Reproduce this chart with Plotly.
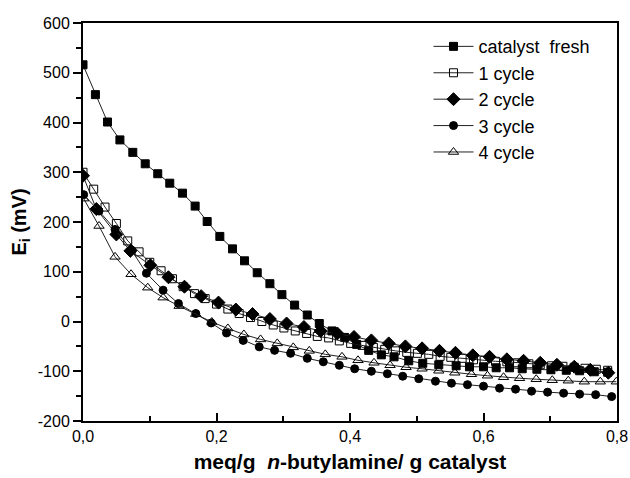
import plotly.graph_objects as go

# catalyst fresh (filled squares)
x_fresh = [0.0, 0.0186, 0.0367, 0.0553, 0.0746, 0.0932, 0.112, 0.130, 0.149, 0.168,
           0.186, 0.205, 0.224, 0.242, 0.261, 0.280, 0.298, 0.317, 0.336, 0.354,
           0.373, 0.392, 0.410, 0.428, 0.447, 0.466, 0.488, 0.509, 0.533, 0.559,
           0.579, 0.600, 0.619, 0.639, 0.658, 0.680, 0.701, 0.724, 0.744, 0.766, 0.786]
y_fresh = [516, 456, 401, 365, 340, 317, 297, 278, 258, 232,
           201, 171, 146, 122, 98, 76, 54, 33, 13, -4,
           -19, -32, -46, -58, -67, -71, -79, -84, -87, -89,
           -91, -91, -93, -93, -95, -96, -97, -98, -99, -101, -102]

# 1 cycle (open squares)
x_c1 = [0.0, 0.016, 0.033, 0.050, 0.067, 0.084, 0.100, 0.117, 0.134, 0.150,
        0.167, 0.183, 0.200, 0.217, 0.234, 0.251, 0.268, 0.285, 0.301, 0.318,
        0.335, 0.351, 0.368, 0.384, 0.401, 0.418, 0.435, 0.452, 0.468, 0.485,
        0.501, 0.518, 0.535, 0.551, 0.568, 0.585, 0.601, 0.618, 0.635, 0.651,
        0.668, 0.685, 0.702, 0.719, 0.736, 0.752, 0.769, 0.786]
y_c1 = [300, 266, 230, 197, 162, 140, 119, 102, 86, 70,
        56, 46, 35, 25, 16, 8, 0, -7, -13, -19,
        -24, -30, -33, -39, -44, -48, -52, -56, -59, -62,
        -64, -66, -70, -72, -74, -77, -78, -80, -81, -83,
        -85, -87, -89, -90, -92, -94, -96, -98]

# 2 cycle (filled diamonds)
x_c2 = [0.0, 0.020, 0.050, 0.071, 0.101, 0.128, 0.152, 0.177, 0.203, 0.229,
        0.254, 0.280, 0.305, 0.331, 0.356, 0.381, 0.406, 0.432, 0.458, 0.483,
        0.508, 0.534, 0.558, 0.584, 0.609, 0.635, 0.660, 0.685, 0.710, 0.736,
        0.760, 0.787]
y_c2 = [293, 226, 175, 142, 113, 89, 70, 51, 38, 24,
        15, 5, -4, -11, -19, -24, -31, -38, -44, -50,
        -54, -59, -63, -68, -71, -76, -79, -83, -87, -91,
        -97, -103]

# 3 cycle (filled circles)
x_c3 = [0.001, 0.024, 0.048, 0.073, 0.095, 0.120, 0.143, 0.169, 0.192, 0.215,
        0.240, 0.264, 0.287, 0.311, 0.336, 0.360, 0.384, 0.407, 0.432, 0.456,
        0.479, 0.503, 0.528, 0.552, 0.576, 0.600, 0.624, 0.648, 0.672, 0.696,
        0.720, 0.744, 0.768, 0.792]
y_c3 = [255, 222, 185, 143, 97, 63, 36, 16, -3, -23,
        -38, -51, -58, -64, -74, -81, -88, -95, -100, -105,
        -110, -115, -120, -124, -127, -130, -134, -136, -140, -142,
        -144, -146, -147, -151]

# 4 cycle (open triangles)
x_c4 = [0.001, 0.024, 0.048, 0.072, 0.097, 0.120, 0.144, 0.169, 0.193, 0.217,
        0.241, 0.266, 0.291, 0.315, 0.339, 0.363, 0.388, 0.412, 0.436, 0.460,
        0.484, 0.508, 0.533, 0.557, 0.582, 0.606, 0.630, 0.654, 0.679, 0.703,
        0.727, 0.751, 0.775, 0.799]
y_c4 = [247, 192, 130, 95, 68, 48, 31, 15, -1, -14,
        -26, -36, -44, -52, -59, -66, -71, -78, -83, -88,
        -92, -95, -99, -103, -106, -109, -112, -114, -116, -118,
        -119, -121, -121, -121]

y_ticks = [-200, -100, 0, 100, 200, 300, 400, 500, 600]
x_ticks = [0.0, 0.2, 0.4, 0.6, 0.8]

series = [
    ("catalyst  fresh", x_fresh, y_fresh, "square", 8),
    ("1 cycle", x_c1, y_c1, "square-open", 8),
    ("2 cycle", x_c2, y_c2, "diamond", 10),
    ("3 cycle", x_c3, y_c3, "circle", 8),
    ("4 cycle", x_c4, y_c4, "triangle-up-open", 9),
]

fig = go.Figure()
for name, xs, ys, sym, size in series:
    fig.add_trace(go.Scatter(
        x=xs, y=ys, name=name, mode="lines+markers",
        line=dict(color="#222222", width=1),
        marker=dict(symbol=sym, size=size, color="black", line=dict(color="black", width=1)),
    ))

font = "Liberation Sans, Arial, sans-serif"
fig.update_layout(
    width=630, height=478,
    margin=dict(l=83, r=13, t=23, b=57, autoexpand=False),
    plot_bgcolor="white", paper_bgcolor="white",
    separators=",.",
    font=dict(family=font, size=16, color="black"),
    showlegend=True,
    legend=dict(x=0.647, y=0.987, xanchor="left", yanchor="top",
                bgcolor="rgba(0,0,0,0)", font=dict(size=18),
                tracegroupgap=0, itemwidth=40),
    xaxis=dict(
        range=[0, 0.8], tickvals=x_ticks, tickformat=".1f", automargin=False,
        showline=True, linecolor="black", linewidth=2, mirror=True,
        ticks="inside", ticklen=8, tickwidth=1.5, tickcolor="black",
        minor=dict(dtick=0.1, ticks="inside", ticklen=5, tickwidth=1.5, tickcolor="black"),
        showgrid=False, zeroline=False,
        title=dict(text="<b>meq/g  <i>n</i>-butylamine/ g catalyst</b>", font=dict(size=21), standoff=10),
    ),
    yaxis=dict(
        range=[-200, 600], tickvals=y_ticks, ticktext=[str(v) for v in y_ticks], automargin=False,
        showline=True, linecolor="black", linewidth=2, mirror=True,
        ticks="outside", ticklen=8, tickwidth=1.5, tickcolor="black",
        minor=dict(dtick=50, ticks="outside", ticklen=5, tickwidth=1.5, tickcolor="black"),
        showgrid=False, zeroline=False,
        title=dict(text="<b>E<sub>i</sub> (mV)</b>", font=dict(size=20), standoff=6),
    ),
)

# drop the page's default body margin so the figure sits at the window's corner
fig.write_html("out.html", config={"displayModeBar": False},
               post_script="document.body.style.margin='0';")
